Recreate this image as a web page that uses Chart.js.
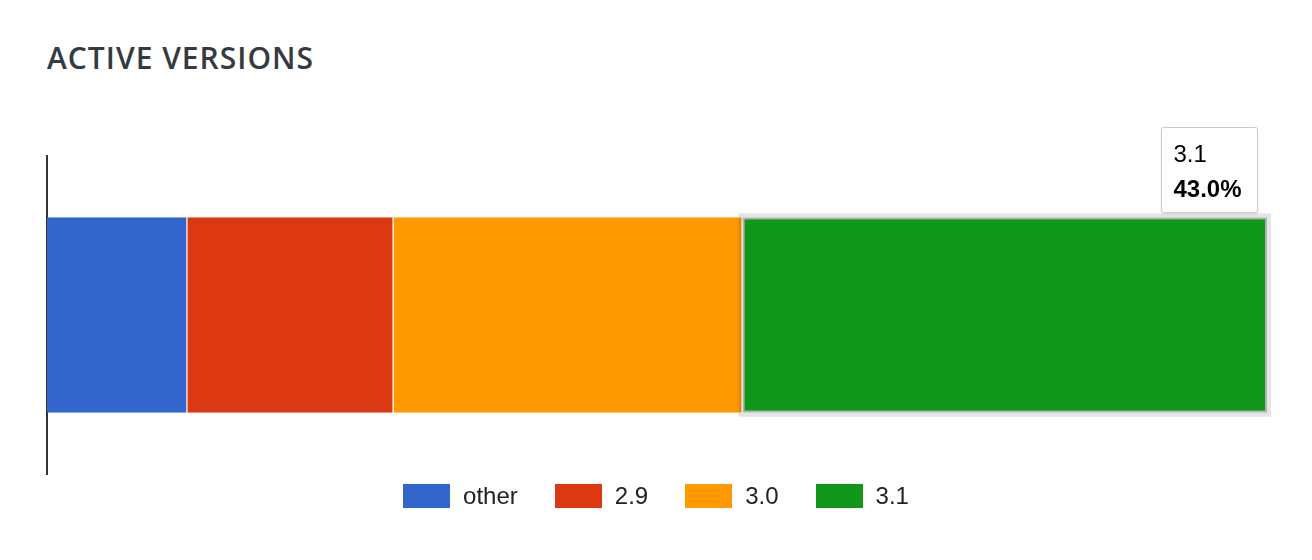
<!DOCTYPE html>
<html>
<head>
<meta charset="utf-8">
<title>Active versions</title>
<script src="https://cdn.jsdelivr.net/npm/chart.js@4.4.1/dist/chart.umd.min.js"></script>
<style>
  html, body { margin: 0; padding: 0; background: #fff; }
  body { width: 1312px; height: 560px; position: relative; overflow: hidden; }
  #title {
    position: absolute; left: 47px; top: 43px;
    font: 600 30px/30px "Open Sans", sans-serif;
    letter-spacing: 1px; color: #343a40;
  }
  #chart { position: absolute; left: 0; top: 0; }
  #legend {
    position: absolute; left: 0; top: 484px; width: 1312px;
    display: flex; justify-content: center; gap: 37px;
    font: 24px "Liberation Sans", Arial, sans-serif; color: #222;
  }
  .item { display: flex; align-items: center; height: 24px; }
  .swatch { width: 47px; height: 24px; margin-right: 13px; }
</style>
</head>
<body>
<div id="title">ACTIVE VERSIONS</div>
<canvas id="chart" width="1312" height="560"></canvas>
<div id="legend"></div>
<script>
// data
const categories = ["versions"];
const seriesNames = ["other", "2.9", "3.0", "3.1"];
const seriesValues = [11.5, 16.9, 28.6, 43.0];
const seriesColors = ["#3366cc", "#dc3912", "#ff9900", "#109618"];
const highlighted = 3; // segment shown with the tooltip

const datasets = seriesNames.map((name, i) => ({
  label: name,
  data: [seriesValues[i]],
  backgroundColor: seriesColors[i],
  borderColor: i === highlighted ? "#b3b3b3" : "#fff",
  borderWidth: i === highlighted ? 2 : { top: 0, right: 1, bottom: 0, left: 0 },
  borderSkipped: false,
  barPercentage: 0.615,
  categoryPercentage: 1,
}));

// grey halo + tooltip on the hovered segment
const hoverBox = {
  id: "hoverBox",
  afterDatasetsDraw(chart) {
    const ctx = chart.ctx;
    const bar = chart.getDatasetMeta(highlighted).data[0];
    const left = bar.base, right = bar.x;
    const top = bar.y - bar.height / 2, bottom = bar.y + bar.height / 2;
    ctx.save();
    ctx.strokeStyle = "rgba(0,0,0,0.1)";
    ctx.lineWidth = 4;
    ctx.strokeRect(left - 2, top - 2, right - left + 4, bottom - top + 4);
    ctx.restore();
  },
  afterDraw(chart) {
    const ctx = chart.ctx;
    const bar = chart.getDatasetMeta(highlighted).data[0];
    const w = 96, h = 85;
    const x = Math.round(bar.x - 10 - w) + 0.5;
    const y = Math.round(bar.y - bar.height / 2 - 5 - h) + 0.5;
    ctx.save();
    ctx.shadowColor = "rgba(0,0,0,0.15)";
    ctx.shadowBlur = 3;
    ctx.shadowOffsetY = 1;
    ctx.fillStyle = "#fff";
    ctx.beginPath();
    ctx.roundRect(x, y, w, h, 2);
    ctx.fill();
    ctx.shadowColor = "transparent";
    ctx.strokeStyle = "#cccccc";
    ctx.lineWidth = 1;
    ctx.stroke();
    ctx.fillStyle = "#000";
    ctx.textBaseline = "alphabetic";
    ctx.font = '24px "Liberation Sans", Arial, sans-serif';
    ctx.fillText(seriesNames[highlighted], x + 12, y + 34);
    ctx.font = 'bold 24px "Liberation Sans", Arial, sans-serif';
    ctx.fillText(seriesValues[highlighted].toFixed(1) + "%", x + 12, y + 69);
    ctx.restore();
  },
};

new Chart(document.getElementById("chart"), {
  type: "bar",
  data: { labels: categories, datasets: datasets },
  options: {
    indexAxis: "y",
    responsive: false,
    animation: false,
    layout: { padding: { left: 47, right: 45, top: 156, bottom: 86 } },
    scales: {
      x: { stacked: true, min: 0, max: 100, display: false },
      y: {
        stacked: true,
        ticks: { display: false },
        grid: { display: false, drawTicks: false },
        border: { display: true, color: "#333", width: 2 },
      },
    },
    plugins: {
      legend: { display: false },
      tooltip: { enabled: false },
    },
  },
  plugins: [hoverBox],
});

// legend
const legend = document.getElementById("legend");
seriesNames.forEach((name, i) => {
  const item = document.createElement("div");
  item.className = "item";
  item.innerHTML = `<span class="swatch" style="background:${seriesColors[i]}"></span><span>${name}</span>`;
  legend.appendChild(item);
});
</script>
</body>
</html>
